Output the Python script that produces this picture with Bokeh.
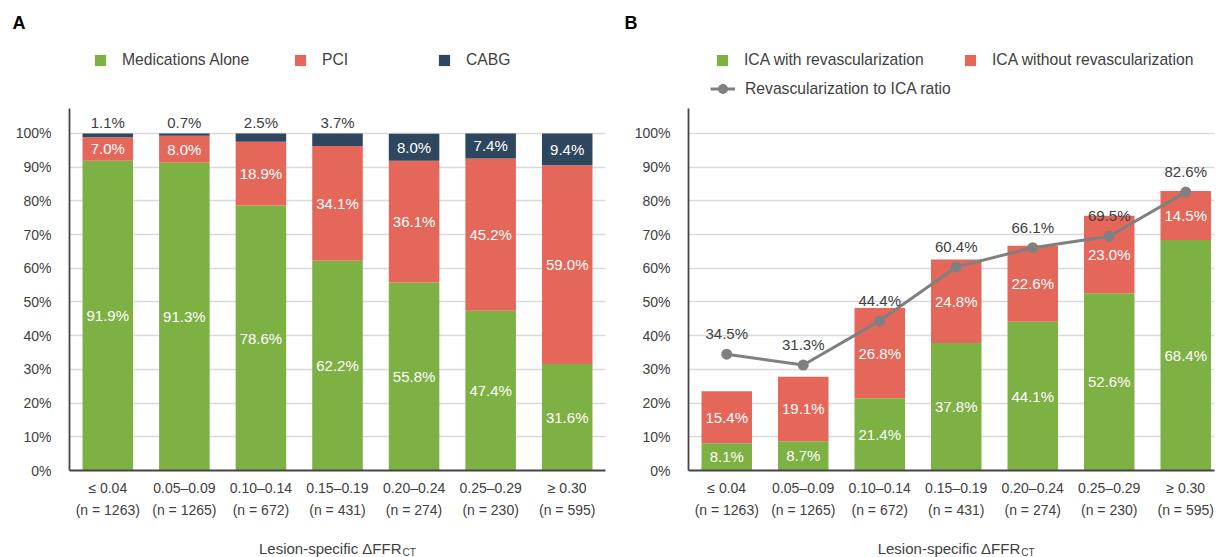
from bokeh.plotting import figure
from bokeh.models import (ColumnDataSource, Legend, LegendItem, Label, LabelSet,
                          FixedTicker, PrintfTickFormatter, Range1d)
from bokeh.layouts import row, column
from bokeh.embed import file_html
from bokeh.resources import INLINE
from bokeh.core.properties import value

# ---------------- data ----------------
categories = ["≤ 0.04", "0.05–0.09", "0.10–0.14", "0.15–0.19", "0.20–0.24", "0.25–0.29", "≥ 0.30"]
n_lesions = [1263, 1265, 672, 431, 274, 230, 595]

meds_alone = [91.9, 91.3, 78.6, 62.2, 55.8, 47.4, 31.6]
pci = [7.0, 8.0, 18.9, 34.1, 36.1, 45.2, 59.0]
cabg = [1.1, 0.7, 2.5, 3.7, 8.0, 7.4, 9.4]

ica_revasc = [8.1, 8.7, 21.4, 37.8, 44.1, 52.6, 68.4]
ica_no_revasc = [15.4, 19.1, 26.8, 24.8, 22.6, 23.0, 14.5]
revasc_ratio = [34.5, 31.3, 44.4, 60.4, 66.1, 69.5, 82.6]

y_ticks = list(range(0, 101, 10))

# ---------------- style ----------------
GREEN = "#7db143"
RED = "#e4675a"
NAVY = "#2e475f"
GRAY_LINE = "#808080"
TXT = "#404040"
FONT = "Liberation Sans"
BAR_W = 0.66
HEAD_H = 103
MAIN_H = 425
FOOT_H = 29

xs = list(range(len(categories)))
tick_labels = {i: f"{c}\n(n = {n})" for i, c, n in zip(xs, categories, n_lesions)}


def fmt(v):
    return f"{v:.1f}%"


def blank_fig(width, height, **kw):
    p = figure(width=width, height=height, output_backend="svg", toolbar_location=None,
               x_axis_type=None, y_axis_type=None, min_border=0, **kw)
    p.outline_line_color = None
    p.xgrid.visible = False
    p.ygrid.visible = False
    return p


def main_fig(width, border_left, border_right, x_end):
    p = figure(width=width, height=MAIN_H, x_range=Range1d(-0.5, x_end), y_range=Range1d(0, 107.4),
               output_backend="svg", toolbar_location=None,
               min_border_left=border_left, min_border_right=border_right,
               min_border_top=5, min_border_bottom=58)
    p.outline_line_color = None
    p.xgrid.grid_line_color = None
    p.yaxis.ticker = FixedTicker(ticks=y_ticks)
    p.yaxis.formatter = PrintfTickFormatter(format="%d%%")
    p.ygrid.grid_line_color = "#d9d9d9"
    p.ygrid.grid_line_width = 1.5
    p.xaxis.ticker = FixedTicker(ticks=xs)
    p.xaxis.major_label_overrides = tick_labels
    for ax in (p.xaxis, p.yaxis):
        ax.axis_line_color = "#454545"
        ax.axis_line_width = 1.8
        ax.major_tick_line_color = None
        ax.minor_tick_line_color = None
        ax.major_label_text_font = FONT
        ax.major_label_text_font_size = "14px"
        ax.major_label_text_color = TXT
    p.xaxis.major_label_standoff = 3
    p.xaxis.major_label_text_line_height = 1.4
    p.yaxis.major_label_standoff = 12
    return p


def legend_item(p, label, renderers, x, y, glyph_width=14, glyph_height=14, standoff=15):
    lg = Legend(items=[LegendItem(label=label, renderers=renderers)], location=(x, y),
                orientation="horizontal", padding=0, margin=0, spacing=0,
                background_fill_alpha=0, border_line_alpha=0,
                glyph_width=glyph_width, glyph_height=glyph_height, label_standoff=standoff,
                label_height=20, label_text_font=FONT, label_text_font_size="15.7px",
                label_text_color=TXT)
    p.add_layout(lg)


def header(width, letter, letter_x):
    # the header's data window lies far away from the data, so its legend proxies stay unseen
    h = blank_fig(width, HEAD_H, x_range=Range1d(1000, 1001), y_range=Range1d(1000, 1001))
    h.frame_align = False
    h.add_layout(Label(x=letter_x, y=HEAD_H - 22, x_units="screen", y_units="screen", text=letter,
                       text_font=FONT, text_font_style="bold", text_font_size="18px",
                       text_color="black", text_baseline="middle", text_align="left"))
    return h


def footer(main):
    f = blank_fig(main.width, FOOT_H, x_range=main.x_range, y_range=Range1d(0, FOOT_H))
    f.min_border_left = main.min_border_left
    f.min_border_right = main.min_border_right
    mid = (len(categories) - 1) / 2
    f.add_layout(Label(x=mid, y=9, y_units="screen", text="Lesion-specific ΔFFR",
                       x_offset=64, text_align="right", text_baseline="middle",
                       text_font=FONT, text_font_size="15px", text_color=TXT))
    f.add_layout(Label(x=mid, y=5, y_units="screen", text="CT",
                       x_offset=65, text_align="left", text_baseline="middle",
                       text_font=FONT, text_font_size="10px", text_color=TXT))
    return f


def label_set(p, src, color, baseline="middle", y_offset=0):
    p.add_layout(LabelSet(x="x", y="y", text="t", source=src, text_align="center",
                          text_baseline=baseline, y_offset=y_offset, text_color=color,
                          text_font=value(FONT), text_font_size=value("15px")))


# ---------------- panel A ----------------
pa = main_fig(608, 69, 3, 6.5)

b1 = [0] * len(xs)
t1 = meds_alone
b2 = t1
t2 = [a + b for a, b in zip(t1, pci)]
b3 = t2
t3 = [a + b for a, b in zip(t2, cabg)]

pa.vbar(x=xs, bottom=b1, top=t1, width=BAR_W, fill_color=GREEN, line_color=None)
pa.vbar(x=xs, bottom=b2, top=t2, width=BAR_W, fill_color=RED, line_color=None)
pa.vbar(x=xs, bottom=b3, top=t3, width=BAR_W, fill_color=NAVY, line_color=None)

label_set(pa, ColumnDataSource(dict(
    x=xs * 2 + [x for x, v in zip(xs, cabg) if v >= 5],
    y=[(a + b) / 2 for a, b in zip(b1, t1)] + [(a + b) / 2 for a, b in zip(b2, t2)]
      + [(a + b) / 2 for a, b, v in zip(b3, t3, cabg) if v >= 5],
    t=[fmt(v) for v in meds_alone] + [fmt(v) for v in pci] + [fmt(v) for v in cabg if v >= 5],
)), "white")
label_set(pa, ColumnDataSource(dict(
    x=[x for x, v in zip(xs, cabg) if v < 5],
    y=[t for t, v in zip(t3, cabg) if v < 5],
    t=[fmt(v) for v in cabg if v < 5],
)), TXT, baseline="bottom", y_offset=2)

ha = header(608, "A", 12)
lr1 = ha.vbar(x=xs, bottom=b1, top=t1, width=BAR_W, fill_color=GREEN, line_color=None)
lr2 = ha.vbar(x=xs, bottom=b2, top=t2, width=BAR_W, fill_color=RED, line_color=None)
lr3 = ha.vbar(x=xs, bottom=b3, top=t3, width=BAR_W, fill_color=NAVY, line_color=None)
legend_item(ha, "Medications Alone", [lr1], 93, 33)
legend_item(ha, "PCI", [lr2], 293, 33)
legend_item(ha, "CABG", [lr3], 437, 33)
fa = footer(pa)

# ---------------- panel B ----------------
pb = main_fig(612, 80, 6, 6.376)

tb1 = ica_revasc
tb2 = [a + b for a, b in zip(ica_revasc, ica_no_revasc)]
pb.vbar(x=xs, bottom=0, top=tb1, width=BAR_W, fill_color=GREEN, line_color=None)
pb.vbar(x=xs, bottom=tb1, top=tb2, width=BAR_W, fill_color=RED, line_color=None)
pb.line(x=xs, y=revasc_ratio, line_color=GRAY_LINE, line_width=3)
pb.scatter(x=xs, y=revasc_ratio, size=11, fill_color=GRAY_LINE, line_color=None)

label_set(pb, ColumnDataSource(dict(
    x=xs * 2,
    y=[v / 2 for v in tb1] + [(a + b) / 2 for a, b in zip(tb1, tb2)],
    t=[fmt(v) for v in ica_revasc] + [fmt(v) for v in ica_no_revasc],
)), "white")
label_set(pb, ColumnDataSource(dict(x=xs, y=revasc_ratio, t=[fmt(v) for v in revasc_ratio])),
          TXT, baseline="bottom", y_offset=12)

hb = header(612, "B", 16)
lb1 = hb.vbar(x=xs, bottom=0, top=tb1, width=BAR_W, fill_color=GREEN, line_color=None)
lb2 = hb.vbar(x=xs, bottom=tb1, top=tb2, width=BAR_W, fill_color=RED, line_color=None)
lb3 = hb.line(x=xs, y=revasc_ratio, line_color=GRAY_LINE, line_width=3)
lb4 = hb.scatter(x=xs, y=revasc_ratio, size=11, fill_color=GRAY_LINE, line_color=None)
legend_item(hb, "ICA with revascularization", [lb1], 107, 33)
legend_item(hb, "ICA without revascularization", [lb2], 355, 33)
legend_item(hb, "Revascularization to ICA ratio", [lb3, lb4], 102, 2,
            glyph_width=25, glyph_height=25, standoff=10)
fb = footer(pb)

layout = row(column(ha, pa, fa), column(hb, pb, fb))
open("out.html", "w").write(file_html(layout, INLINE))
